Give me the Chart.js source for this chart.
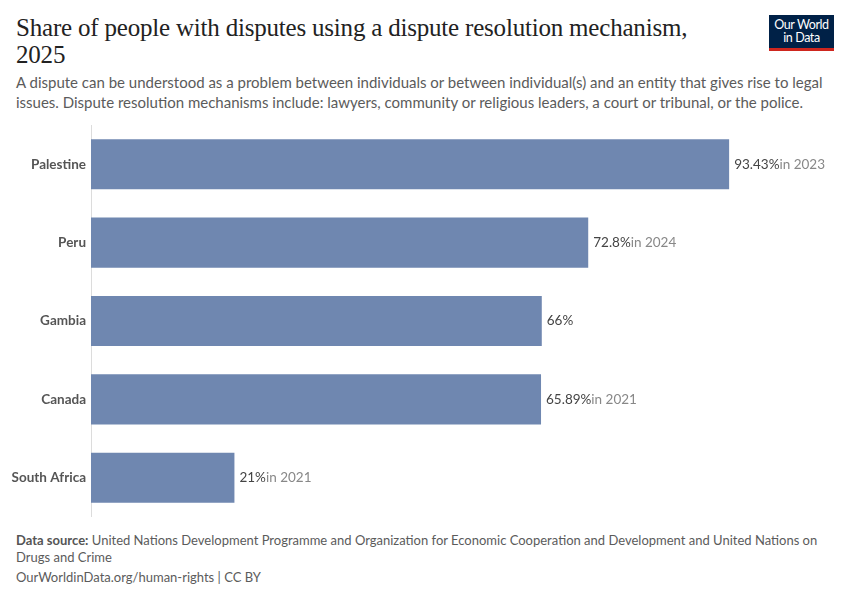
<!DOCTYPE html>
<html>
<head>
<meta charset="utf-8">
<script src="https://cdn.jsdelivr.net/npm/chart.js@4"></script>
<style>
  body { margin: 0; width: 850px; height: 600px; background: #fff; font-family: Lato, sans-serif; position: relative; overflow: hidden; }
  h1 { position: absolute; left: 16px; top: 14px; margin: 0; font-family: "Liberation Serif", serif; font-weight: normal; font-size: 25px; line-height: 27px; color: #222; letter-spacing: -0.2px; }
  .sub { position: absolute; left: 16px; top: 72px; width: 820px; font-size: 15px; line-height: 20px; color: #5b5b5b; }
  .logo { position: absolute; left: 769px; top: 15px; width: 65px; height: 30px; background: #002147; border-bottom: 3px solid #ce261e; color: #fff; font-size: 12.5px; line-height: 13px; text-align: center; padding-top: 3px; letter-spacing: -0.4px; }
  .chart { position: absolute; left: 0; top: 112px; width: 850px; height: 418px; }
  .foot { position: absolute; left: 16px; top: 532px; width: 820px; font-size: 13px; line-height: 17px; color: #5b5b5b; }
  .foot b { font-weight: bold; color: #555; }
  .url { position: absolute; left: 16px; top: 569px; font-size: 13px; color: #5b5b5b; }
</style>
</head>
<body>
<h1>Share of people with disputes using a dispute resolution mechanism,<br>2025</h1>
<div class="sub">A dispute can be understood as a problem between individuals or between individual(s) and an entity that gives rise to legal issues. Dispute resolution mechanisms include: lawyers, community or religious leaders, a court or tribunal, or the police.</div>
<div class="logo">Our World<br>in Data</div>
<div class="chart"><canvas id="c"></canvas></div>
<div class="foot"><b>Data source:</b> United Nations Development Programme and Organization for Economic Cooperation and Development and United Nations on Drugs and Crime</div>
<div class="url">OurWorldinData.org/human-rights | CC BY</div>
<script>
const countries = ['Palestine', 'Peru', 'Gambia', 'Canada', 'South Africa'];
const shares = [93.43, 72.8, 66, 65.89, 21];
const years = ['in 2023', 'in 2024', '', 'in 2021', 'in 2021'];

// value + year label at the end of each bar
const valueLabels = {
  id: 'valueLabels',
  afterDatasetsDraw(chart) {
    const ctx = chart.ctx;
    const meta = chart.getDatasetMeta(0);
    ctx.save();
    ctx.font = '13.5px Lato';
    ctx.textBaseline = 'middle';
    meta.data.forEach((bar, i) => {
      const txt = shares[i] + '%';
      let x = bar.x + 5;
      ctx.fillStyle = '#444';
      ctx.fillText(txt, x, bar.y);
      x += ctx.measureText(txt).width;
      ctx.fillStyle = '#888';
      ctx.fillText(years[i], x, bar.y);
    });
    ctx.restore();
  }
};

new Chart(document.getElementById('c'), {
  type: 'bar',
  data: {
    labels: countries,
    datasets: [{
      data: shares,
      backgroundColor: '#6f87b0',
      categoryPercentage: 1,
      barPercentage: 0.64
    }]
  },
  options: {
    indexAxis: 'y',
    responsive: true,
    maintainAspectRatio: false,
    animation: false,
    layout: { padding: { top: 5, right: 76, bottom: 4, left: 0 } },
    plugins: { legend: { display: false }, tooltip: { enabled: false } },
    scales: {
      x: { display: false, min: 0, max: 100 },
      y: {
        afterFit(scale) { scale.width = 91; },
        grid: { display: false, drawTicks: false },
        border: { color: '#dcdcdc', width: 1 },
        ticks: { color: '#555', font: { family: 'Lato', size: 13.5, weight: 'bold' }, padding: 5 }
      }
    }
  },
  plugins: [valueLabels]
});
</script>
</body>
</html>
